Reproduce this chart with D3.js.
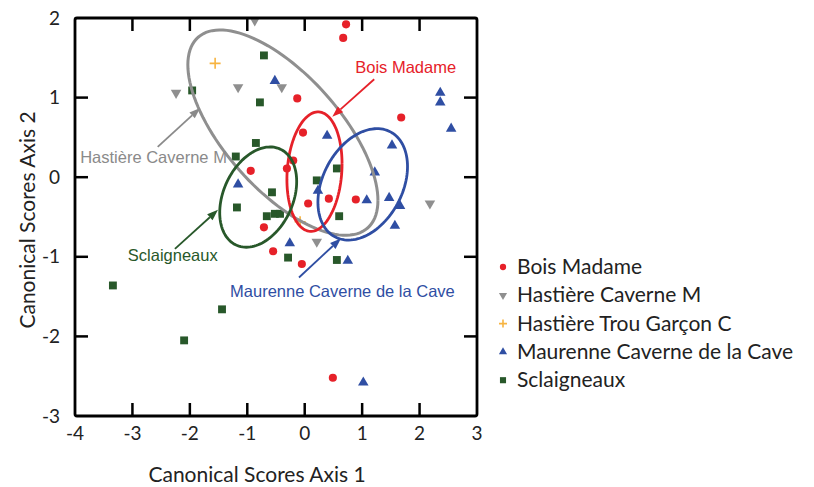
<!DOCTYPE html>
<html>
<head>
<meta charset="utf-8">
<script src="https://cdn.jsdelivr.net/npm/d3@7"></script>
<style>
  body { margin: 0; background: #fff; }
  svg { display: block; }
</style>
</head>
<body>
<div id="chart"></div>
<script>
// site groups (legend order)
var groups = ["Bois Madame", "Hastière Caverne M", "Hastière Trou Garçon C", "Maurenne Caverne de la Cave", "Sclaigneaux"];
var colors = ["#e62129", "#8f8f8f", "#f7b441", "#2f4ea3", "#28582a"];

// canonical scores per group: [axis1, axis2]
var boisMadame = [[0.72,1.92],[0.67,1.75],[-0.13,0.99],[1.68,0.75],[-0.03,0.56],[-0.20,0.21],[-0.31,0.11],[-0.94,0.08],
  [0.06,-0.33],[0.42,-0.27],[0.89,-0.28],[-0.71,-0.63],[-0.55,-0.93],[-0.05,-1.09],[0.49,-2.52]];
var hastiereCaverneM = [[-0.87,1.97],[-2.24,1.06],[-1.16,1.13],[-0.40,1.13],[0.21,-0.81],[2.18,-0.33]];
var hastiereTrouGarcon = [[-1.56,1.43],[-0.08,-0.56]];
var maurenne = [[-0.52,1.21],[0.39,0.52],[2.36,1.06],[2.36,0.94],[2.55,0.61],[1.52,0.40],[1.22,0.06],[0.23,-0.17],
  [1.08,-0.29],[1.47,-0.26],[1.66,-0.36],[1.57,-0.61],[0.75,-1.05],[-1.16,-0.09],[-0.26,-0.83],[1.02,-2.58]];
var sclaigneaux = [[-0.71,1.53],[-1.96,1.09],[-0.78,0.94],[-0.85,0.43],[-1.20,0.26],[-0.57,-0.19],[-1.18,-0.38],
  [-0.66,-0.49],[-0.52,-0.46],[-0.43,-0.46],[-0.29,-1.01],[0.21,-0.04],[0.56,0.11],[0.60,-0.49],[0.56,-1.04],
  [-3.34,-1.36],[-1.44,-1.66],[-2.10,-2.05]];
var groupData = [boisMadame, hastiereCaverneM, hastiereTrouGarcon, maurenne, sclaigneaux];

// confidence ellipses: centre, spread on each axis, correlation
var ellipseGroups = [1, 0, 3, 4];
var ellipses = [
  { cx: -0.38, cy: 0.56, sx: 1.655, sy: 1.29, r: -0.66 },
  { cx: 0.17, cy: 0.07, sx: 0.48, sy: 0.75, r: 0.13 },
  { cx: 1.01, cy: -0.09, sx: 0.78, sy: 0.70, r: 0.32 },
  { cx: -0.81, cy: -0.25, sx: 0.67, sy: 0.63, r: 0.31 }
];

// callout labels: text start and arrow start/end in data units
var callouts = [
  { g: 0, text: "Bois Madame", tx: 0.88, ty: 1.31, x1: 1.21, y1: 1.23, x2: 0.48, y2: 0.76 },
  { g: 1, text: "Hastière Caverne M", tx: -3.91, ty: 0.18, x1: -2.56, y1: 0.38, x2: -1.82, y2: 0.87 },
  { g: 4, text: "Sclaigneaux", tx: -3.08, ty: -1.05, x1: -2.26, y1: -0.90, x2: -1.51, y2: -0.41 },
  { g: 3, text: "Maurenne Caverne de la Cave", tx: -1.30, ty: -1.50, x1: -0.10, y1: -1.26, x2: 0.63, y2: -0.77 }
];

var xTicks = [-4, -3, -2, -1, 0, 1, 2, 3];
var yTicks = [-3, -2, -1, 0, 1, 2];

var width = 814, height = 487;
var margin = { left: 75, right: 337, top: 18, bottom: 71 };

var svg = d3.select("#chart").append("svg")
  .attr("width", width)
  .attr("height", height);

var x = d3.scaleLinear().domain([-4, 3]).range([margin.left, width - margin.right]);
var y = d3.scaleLinear().domain([-3, 2]).range([height - margin.bottom, margin.top]);

var tickFont = "Lato, 'Open Sans', sans-serif";
var noteFont = "'Liberation Sans', Arial, sans-serif";

// inward ticks on all four sides
var tickLen = 13;
var inner = svg.append("g").attr("stroke", "#000").attr("stroke-width", 2.5);
xTicks.slice(1, -1).forEach(function (t) {
  inner.append("line").attr("x1", x(t)).attr("x2", x(t)).attr("y1", y(-3)).attr("y2", y(-3) - tickLen);
  inner.append("line").attr("x1", x(t)).attr("x2", x(t)).attr("y1", y(2)).attr("y2", y(2) + tickLen);
});
yTicks.slice(1, -1).forEach(function (t) {
  inner.append("line").attr("x1", x(-4)).attr("x2", x(-4) + tickLen).attr("y1", y(t)).attr("y2", y(t));
  inner.append("line").attr("x1", x(3)).attr("x2", x(3) - tickLen).attr("y1", y(t)).attr("y2", y(t));
});

// tick labels
svg.append("g").selectAll("text")
  .data(xTicks).enter().append("text")
  .attr("x", function (d) { return x(d); })
  .attr("y", y(-3) + 24)
  .attr("text-anchor", "middle")
  .style("font-family", tickFont).style("font-size", "19px").attr("fill", "#222")
  .text(function (d) { return d < 0 ? "-" + Math.abs(d) : d; });

svg.append("g").selectAll("text")
  .data(yTicks).enter().append("text")
  .attr("x", x(-4) - 15)
  .attr("y", function (d) { return y(d) + 6.5; })
  .attr("text-anchor", "end")
  .style("font-family", tickFont).style("font-size", "19px").attr("fill", "#222")
  .text(function (d) { return d < 0 ? "-" + Math.abs(d) : d; });

// axis titles
svg.append("text")
  .attr("x", 257)
  .attr("y", 482)
  .attr("text-anchor", "middle")
  .style("font-family", tickFont).style("font-size", "21px").attr("fill", "#222")
  .text("Canonical Scores Axis 1");

svg.append("text")
  .attr("transform", "rotate(-90)")
  .attr("x", -220)
  .attr("y", 35)
  .attr("text-anchor", "middle")
  .style("font-family", tickFont).style("font-size", "21px").attr("fill", "#222")
  .text("Canonical Scores Axis 2");

// marker shapes
function markerPath(g, big) {
  var s = big ? 1 : 0.6;
  if (g === 0) return d3.symbol().type(d3.symbolCircle).size(52 * s)();
  if (g === 1 || g === 3) return d3.symbol().type(d3.symbolTriangle).size(48 * s)();
  if (g === 2) {
    var h = big ? 5.5 : 4;
    return "M" + (-h) + ",0H" + h + "M0," + (-h) + "V" + h;
  }
  return d3.symbol().type(d3.symbolSquare).size(62 * s)();
}
function markerTransform(g) { return g === 1 ? " rotate(180)" : ""; }
function styleMarker(sel, g) {
  if (g === 2) sel.attr("fill", "none").attr("stroke", colors[g]).attr("stroke-width", 1.6);
  else sel.attr("fill", colors[g]);
}

// scatter points
groupData.forEach(function (pts, g) {
  var sel = svg.append("g").selectAll("path")
    .data(pts).enter().append("path")
    .attr("d", markerPath(g, true))
    .attr("transform", function (d) { return "translate(" + x(d[0]) + "," + y(d[1]) + ")" + markerTransform(g); });
  styleMarker(sel, g);
});

// ellipses drawn in data space then mapped through scales
var ellLine = d3.line().x(function (d) { return x(d[0]); }).y(function (d) { return y(d[1]); });
ellipses.forEach(function (e, i) {
  var pts = d3.range(0, 121).map(function (k) {
    var t = k / 120 * 2 * Math.PI;
    return [e.cx + e.sx * Math.cos(t),
            e.cy + e.sy * (e.r * Math.cos(t) + Math.sqrt(1 - e.r * e.r) * Math.sin(t))];
  });
  svg.append("path")
    .attr("d", ellLine(pts))
    .attr("fill", "none")
    .attr("stroke", colors[ellipseGroups[i]])
    .attr("stroke-width", i === 0 ? 3 : 2.8);
});

// callout arrows and labels
callouts.forEach(function (c) {
  var col = colors[c.g];
  if (c.g === 1) col = "#8a8a8a";
  var x1 = x(c.x1), y1 = y(c.y1), x2 = x(c.x2), y2 = y(c.y2);
  var ang = Math.atan2(y2 - y1, x2 - x1), L = 11, W = 4;
  var bx = x2 - L * Math.cos(ang), by = y2 - L * Math.sin(ang);
  svg.append("line")
    .attr("x1", x1).attr("y1", y1).attr("x2", bx).attr("y2", by)
    .attr("stroke", col).attr("stroke-width", 1.8);
  svg.append("path")
    .attr("d", "M" + x2 + "," + y2 +
      "L" + (bx + W * Math.sin(ang)) + "," + (by - W * Math.cos(ang)) +
      "L" + (bx - W * Math.sin(ang)) + "," + (by + W * Math.cos(ang)) + "Z")
    .attr("fill", col);
  svg.append("text")
    .attr("x", x(c.tx)).attr("y", y(c.ty))
    .style("font-family", noteFont).style("font-size", "16.5px")
    .attr("fill", col)
    .text(c.text);
});

// frame on top
svg.append("rect")
  .attr("x", x(-4)).attr("y", y(2))
  .attr("width", x(3) - x(-4)).attr("height", y(-3) - y(2))
  .attr("fill", "none").attr("stroke", "#000").attr("stroke-width", 2.8)
  .attr("rx", 2);

// legend
var legend = svg.append("g").attr("transform", "translate(503,267)");
groups.forEach(function (name, g) {
  var row = legend.append("g").attr("transform", "translate(0," + (g * 28.3) + ")");
  var m = row.append("path")
    .attr("d", markerPath(g, false))
    .attr("transform", markerTransform(g).trim());
  styleMarker(m, g);
  row.append("text")
    .attr("x", 14).attr("y", 7)
    .style("font-family", tickFont).style("font-size", "21px").attr("fill", "#222")
    .text(name);
});
</script>
</body>
</html>
